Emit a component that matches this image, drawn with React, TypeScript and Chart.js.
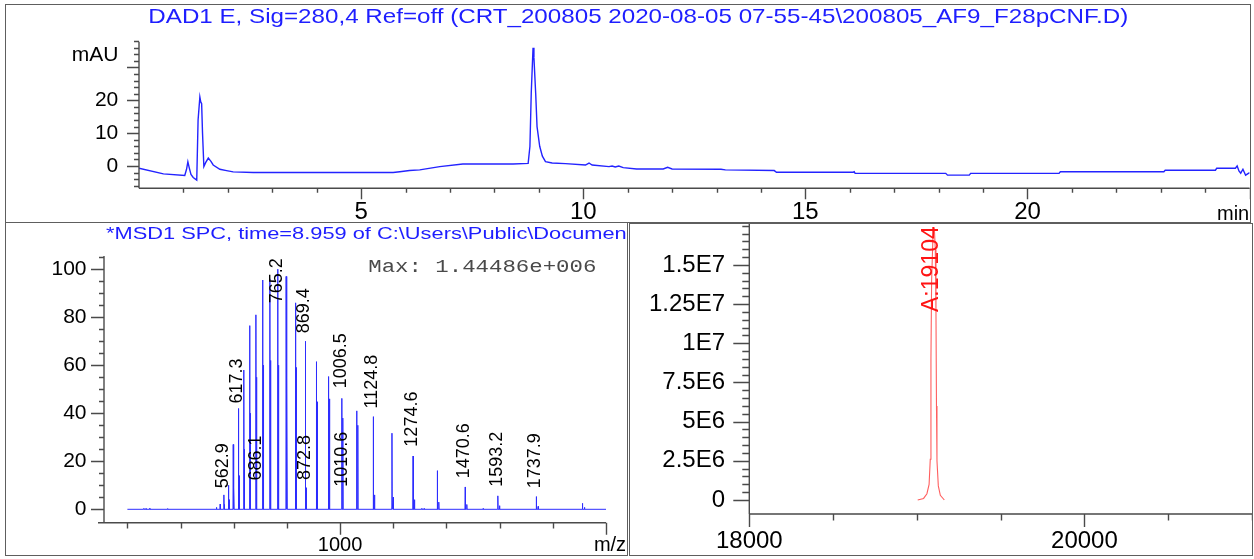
import React, { useEffect, useRef } from 'react';
import { Chart, registerables } from 'chart.js';

Chart.register(...registerables);

const SANS = '"Liberation Sans", Arial, Helvetica, sans-serif';
const MONO = '"Liberation Mono", "Courier New", monospace';
const BLUE = 'rgb(30,30,255)';
const AXIS = '#4a4a4a';

// ---------------- DAD (UV) chromatogram ----------------
const DAD_TITLE = 'DAD1 E, Sig=280,4 Ref=off (CRT_200805 2020-08-05 07-55-45\\200805_AF9_F28pCNF.D)';
const DAD_TIME = [0.0, 0.55, 1.03, 1.07, 1.1, 1.13, 1.17, 1.22, 1.3, 1.33, 1.37, 1.39, 1.41, 1.43, 1.46, 1.5, 1.56, 1.62, 1.67, 1.82, 1.97, 2.12, 2.57, 4.0, 5.72, 5.87, 6.09, 6.32, 6.77, 7.29, 8.42, 8.76, 8.8, 8.83, 8.87, 8.89, 8.93, 8.96, 9.02, 9.08, 9.15, 9.3, 9.6, 10.05, 10.13, 10.2, 10.58, 10.65, 10.72, 10.8, 10.9, 11.2, 11.8, 11.9, 12.0, 13.1, 13.2, 14.3, 14.35, 16.08, 16.1, 16.12, 18.16, 18.2, 18.69, 18.72, 20.71, 20.74, 23.07, 23.1, 24.23, 24.26, 24.68, 24.72, 24.76, 24.8, 24.85, 24.91, 25.0];
const DAD_MAU = [-0.7, -2.4, -2.9, -1.0, 1.3, -0.5, -2.6, -3.5, -4.3, 14.0, 21.0, 19.5, 19.0, 10.0, -0.2, 1.0, 2.4, 1.4, 0.3, -1.0, -1.4, -1.8, -2.0, -2.0, -2.0, -1.75, -1.4, -1.2, -0.2, 0.6, 0.6, 0.8, 6.0, 22.4, 36.0, 33.0, 22.0, 12.0, 6.0, 3.0, 1.3, 0.9, 0.7, 0.3, 0.9, 0.3, -0.2, 0.0, -0.3, 0.0, -0.5, -0.9, -0.9, -0.4, -0.9, -1.0, -1.2, -1.4, -1.9, -1.9, -1.75, -2.25, -2.25, -2.8, -2.8, -2.25, -2.25, -1.75, -1.75, -1.3, -1.3, -0.7, -0.7, 0.0, -1.5, -2.2, -1.0, -2.8, -2.0];
const DAD_X_TICKS = [5, 10, 15, 20];
const DAD_X_LABELS = ['5', '10', '15', '20'];
const DAD_Y_TICKS = [0, 10, 20];
const DAD_Y_LABELS = ['0', '10', '20'];

// ---------------- MS spectrum ----------------
const MS_TITLE = '*MSD1 SPC, time=8.959 of C:\\Users\\Public\\Documents\\ChemStation';
const MS_MAX_TEXT = 'Max: 1.44486e+006';
const MS_PEAK_MZ = [562.9, 579.9, 598.0, 617.3, 637.8, 659.8, 683.3, 708.6, 735.8, 765.2, 797.0, 831.6, 869.4, 910.7, 956.2, 1006.5, 1062.3, 1124.8, 1195.0, 1274.6, 1365.6, 1470.6, 1593.2, 1737.9, 1911.4];
const MS_PEAK_INT = [6, 10, 27, 42, 58, 76.5, 81, 95.5, 96, 100, 97, 86, 70, 61.5, 55.3, 46.2, 41, 38.6, 31.7, 22.2, 16.1, 9.3, 5.6, 5.3, 2.5];
const MS_ADDUCT_MZ = [565.2, 582.2, 600.4, 619.8, 640.4, 662.5, 686.1, 711.5, 738.8, 768.3, 800.2, 835.0, 872.8, 914.4, 960.1, 1010.6, 1066.6, 1129.4, 1199.8, 1279.7, 1371.1, 1476.5, 1599.6, 1744.9, 1919.1];
const MS_ADDUCT_INT = [2, 4, 9, 14, 25, 40, 55, 60, 62, 60, 55, 59, 9, 44.8, 46, 38, 35, 6, 5, 4, 3, 2, 1.5, 1.2, 0.8];
const MS_NOISE_MZ = [262, 270, 284, 351, 535, 549, 1307, 1316, 1538];
const MS_NOISE_INT = [0.4, 0.3, 0.5, 0.3, 0.8, 2.2, 0.4, 0.3, 0.3];
const MS_RANGE = [200, 2000];
const MS_LABEL_MZ = [562.9, 617.3, 686.1, 765.2, 869.4, 872.8, 1006.5, 1010.6, 1124.8, 1274.6, 1470.6, 1593.2, 1737.9];
const MS_LABEL_BASE = [8.75, 44.1, 12, 85.8, 73.3, 12.2, 50.4, 9.4, 42, 26.1, 12.9, 9.4, 8.75];
const MS_X_TICKS = [1000];
const MS_X_LABELS = ['1000'];
const MS_Y_TICKS = [0, 20, 40, 60, 80, 100];
const MS_Y_LABELS = ['0', '20', '40', '60', '80', '100'];

// ---------------- Deconvoluted spectrum ----------------
const DEC_MASS = [19005, 19040, 19060, 19073, 19080, 19084, 19088, 19096, 19104, 19110, 19114, 19117, 19120, 19128, 19140, 19164];
const DEC_ABUND = [0, 0.1e6, 0.4e6, 1.0e6, 2.6e6, 9e6, 14e6, 16.8e6, 17.4e6, 16e6, 12e6, 6e6, 2.5e6, 0.9e6, 0.3e6, 0];
const DEC_LABEL = 'A:19104';
const DEC_LABEL_MASS = 19104;
const DEC_LABEL_BASE = 12.0e6;
const DEC_X_TICKS = [18000, 20000];
const DEC_X_LABELS = ['18000', '20000'];
const DEC_Y_TICKS = [0, 2.5e6, 5e6, 7.5e6, 1e7, 1.25e7, 1.5e7];
const DEC_Y_LABELS = ['0', '2.5E6', '5E6', '7.5E6', '1E7', '1.25E7', '1.5E7'];

type AxesCfg = {
  xStart: number; xStep: number; xEnd: number; xMajor: number[]; xMinorLen: number; xMajorLen: number;
  yStart: number; yStep: number; yEnd: number; yMajor: number[]; yMinorLen: number; yMajorLen: number;
  xExtendLeft: number;
};

function isMajor(v: number, majors: number[], step: number) {
  return majors.some((m) => Math.abs(m - v) < step * 1e-3);
}

function stretchText(ctx: CanvasRenderingContext2D, text: string, x: number, y: number, font: string, color: string, scaleX: number) {
  ctx.save();
  ctx.font = font;
  ctx.fillStyle = color;
  ctx.textAlign = 'left';
  ctx.textBaseline = 'middle';
  ctx.translate(x, y);
  ctx.scale(scaleX, 1);
  ctx.fillText(text, 0, 0);
  ctx.restore();
}

function fitScale(ctx: CanvasRenderingContext2D, text: string, font: string, width: number) {
  ctx.save();
  ctx.font = font;
  const w = ctx.measureText(text).width;
  ctx.restore();
  return w > 0 ? width / w : 1;
}

function makeChart(canvas: HTMLCanvasElement, spec: any) {
  const axesPlugin = {
    id: 'customAxes',
    afterDraw(chart: any) {
      const { ctx, chartArea: a, scales } = chart;
      const x = scales.x;
      const y = scales.y;
      const c: AxesCfg = spec.axes;
      ctx.save();
      ctx.strokeStyle = AXIS;
      ctx.lineWidth = 1.4;
      ctx.beginPath();
      ctx.moveTo(a.left - c.xExtendLeft, a.bottom);
      ctx.lineTo(a.right, a.bottom);
      ctx.moveTo(a.left, a.top);
      ctx.lineTo(a.left, a.bottom);
      const nx = Math.round((c.xEnd - c.xStart) / c.xStep);
      for (let i = 0; i <= nx; i++) {
        const v = c.xStart + i * c.xStep;
        const px = Math.round(x.getPixelForValue(v)) + 0.5;
        const len = isMajor(v, c.xMajor, c.xStep) ? c.xMajorLen : c.xMinorLen;
        ctx.moveTo(px, a.bottom);
        ctx.lineTo(px, a.bottom + len);
      }
      const ny = Math.round((c.yEnd - c.yStart) / c.yStep);
      for (let i = 0; i <= ny; i++) {
        const v = c.yStart + i * c.yStep;
        const py = Math.round(y.getPixelForValue(v)) + 0.5;
        const len = isMajor(v, c.yMajor, c.yStep) ? c.yMajorLen : c.yMinorLen;
        ctx.moveTo(a.left, py);
        ctx.lineTo(a.left - len, py);
      }
      ctx.stroke();
      ctx.restore();
      ctx.save();
      spec.decorate(chart);
      ctx.restore();
    },
  };

  return new Chart(canvas, {
    type: 'line',
    data: { datasets: spec.datasets },
    options: {
      responsive: false,
      animation: false,
      layout: { padding: { left: 0, right: spec.padRight, top: spec.padTop, bottom: 0 } },
      plugins: { legend: { display: false }, tooltip: { enabled: false }, title: { display: false } },
      elements: { point: { radius: 0 }, line: { tension: 0 } },
      scales: {
        x: {
          type: 'linear',
          min: spec.xMin,
          max: spec.xMax,
          grid: { display: false, drawTicks: false },
          border: { display: false },
          afterBuildTicks: (s: any) => {
            s.ticks = spec.xTicks.map((v: number) => ({ value: v }));
          },
          afterFit: (s: any) => {
            s.height = spec.xHeight;
            s.paddingLeft = 0;
            s.paddingRight = 0;
          },
          ticks: {
            autoSkip: false,
            maxRotation: 0,
            minRotation: 0,
            padding: spec.xPad,
            color: '#000',
            font: { family: SANS, size: spec.xFontSize },
            callback: (_v: any, i: number) => spec.xLabels[i],
          },
        },
        y: {
          type: 'linear',
          min: spec.yMin,
          max: spec.yMax,
          grid: { display: false, drawTicks: false },
          border: { display: false },
          afterBuildTicks: (s: any) => {
            s.ticks = spec.yTicks.map((v: number) => ({ value: v }));
          },
          afterFit: (s: any) => {
            s.width = spec.yWidth;
            s.paddingTop = 0;
            s.paddingBottom = 0;
          },
          ticks: {
            autoSkip: false,
            padding: spec.yPad,
            color: '#000',
            font: { family: SANS, size: spec.yFontSize },
            callback: (_v: any, i: number) => spec.yLabels[i],
          },
        },
      },
    } as any,
    plugins: [axesPlugin as any],
  });
}

function buildMsPoints() {
  const peaks: [number, number][] = [];
  MS_PEAK_MZ.forEach((m, i) => peaks.push([m, MS_PEAK_INT[i]]));
  MS_ADDUCT_MZ.forEach((m, i) => peaks.push([m, MS_ADDUCT_INT[i]]));
  MS_NOISE_MZ.forEach((m, i) => peaks.push([m, MS_NOISE_INT[i]]));
  peaks.sort((a, b) => a[0] - b[0]);
  const half = 0.9;
  const pts: { x: number; y: number }[] = [{ x: MS_RANGE[0], y: 0 }];
  peaks.forEach(([m, h]) => {
    pts.push({ x: m - half, y: 0 }, { x: m, y: h }, { x: m + half, y: 0 });
  });
  pts.push({ x: MS_RANGE[1], y: 0 });
  return pts;
}

export default function App() {
  const topRef = useRef<HTMLCanvasElement>(null);
  const msRef = useRef<HTMLCanvasElement>(null);
  const decRef = useRef<HTMLCanvasElement>(null);

  useEffect(() => {
    const charts: Chart[] = [];

    // ----- top: DAD chromatogram -----
    charts.push(
      makeChart(topRef.current!, {
        datasets: [
          {
            data: DAD_TIME.map((t, i) => ({ x: t, y: DAD_MAU[i] })),
            borderColor: 'rgb(35,35,255)',
            borderWidth: 1.4,
            pointRadius: 0,
            fill: false,
          },
        ],
        xMin: 0, xMax: 25, yMin: -6.8, yMax: 37.85,
        yWidth: 133, xHeight: 33.7, padTop: 37.7, padRight: 0.4,
        xTicks: DAD_X_TICKS, xLabels: DAD_X_LABELS, xFontSize: 24, xPad: 10,
        yTicks: DAD_Y_TICKS, yLabels: DAD_Y_LABELS, yFontSize: 21, yPad: 20.7,
        axes: {
          xStart: 1, xStep: 1, xEnd: 25, xMajor: [5, 10, 15, 20, 25], xMinorLen: 4.5, xMajorLen: 11,
          yStart: -6, yStep: 2, yEnd: 38, yMajor: [0, 10, 20, 30], yMinorLen: 5, yMajorLen: 12,
          xExtendLeft: 0,
        },
        decorate: (chart: any) => {
          const ctx = chart.ctx as CanvasRenderingContext2D;
          const f = `21px ${SANS}`;
          stretchText(ctx, DAD_TITLE, 142.3, 13.3, f, BLUE, fitScale(ctx, DAD_TITLE, f, 980));
          ctx.font = f;
          ctx.fillStyle = '#000';
          ctx.textAlign = 'right';
          ctx.textBaseline = 'middle';
          ctx.fillText('mAU', 112.3, 51);
          ctx.font = `20px ${SANS}`;
          ctx.textAlign = 'left';
          ctx.textBaseline = 'alphabetic';
          ctx.fillText('min', 1211, 216);
        },
      })
    );

    // ----- bottom left: MS spectrum -----
    charts.push(
      makeChart(msRef.current!, {
        datasets: [
          {
            data: buildMsPoints(),
            borderColor: 'rgb(45,45,255)',
            borderWidth: 1,
            pointRadius: 0,
            fill: false,
          },
        ],
        xMin: 112, xMax: 2000, yMin: -5.58, yMax: 105.5,
        yWidth: 98, xHeight: 32.3, padTop: 33, padRight: 21,
        xTicks: MS_X_TICKS, xLabels: MS_X_LABELS, xFontSize: 20, xPad: 10.3,
        yTicks: MS_Y_TICKS, yLabels: MS_Y_LABELS, yFontSize: 21, yPad: 17.5,
        axes: {
          xStart: 200, xStep: 200, xEnd: 2000, xMajor: [1000, 2000], xMinorLen: 5.7, xMajorLen: 12,
          yStart: 0, yStep: 5, yEnd: 105, yMajor: [0, 20, 40, 60, 80, 100], yMinorLen: 5, yMajorLen: 13,
          xExtendLeft: 6,
        },
        decorate: (chart: any) => {
          const ctx = chart.ctx as CanvasRenderingContext2D;
          const { x, y } = chart.scales;
          const tf = `17px ${SANS}`;
          const sc = fitScale(ctx, '*MSD1 SPC, time=8.959 of C:\\Users\\Public\\Documen', tf, 520.7);
          stretchText(ctx, MS_TITLE, 100, 11.5, tf, BLUE, sc);
          const mf = `19px ${MONO}`;
          stretchText(ctx, MS_MAX_TEXT, 362.3, 44.3, mf, '#4a4a4a', fitScale(ctx, MS_MAX_TEXT, mf, 228));
          ctx.font = `20px ${SANS}`;
          ctx.fillStyle = '#000';
          ctx.textAlign = 'center';
          ctx.textBaseline = 'middle';
          ctx.fillText('m/z', 604, 322);
          ctx.font = `18px ${SANS}`;
          MS_LABEL_MZ.forEach((m, i) => {
            const px = x.getPixelForValue(m) - 1;
            const py = y.getPixelForValue(MS_LABEL_BASE[i]);
            ctx.save();
            ctx.translate(px, py);
            ctx.rotate(-Math.PI / 2);
            ctx.textAlign = 'left';
            ctx.textBaseline = 'middle';
            ctx.fillText(m.toFixed(1), 0, 0);
            ctx.restore();
          });
        },
      })
    );

    // ----- bottom right: deconvoluted -----
    charts.push(
      makeChart(decRef.current!, {
        datasets: [
          {
            data: DEC_MASS.map((m, i) => ({ x: m, y: DEC_ABUND[i] })),
            borderColor: 'rgba(255,40,40,0.75)',
            borderWidth: 1.1,
            pointRadius: 0,
            fill: false,
          },
        ],
        xMin: 18000, xMax: 21000, yMin: -0.8935e6, yMax: 17.615e6,
        yWidth: 119.3, xHeight: 41, padTop: 0, padRight: 0,
        xTicks: DEC_X_TICKS, xLabels: DEC_X_LABELS, xFontSize: 24, xPad: 13.3,
        yTicks: DEC_Y_TICKS, yLabels: DEC_Y_LABELS, yFontSize: 24, yPad: 24.3,
        axes: {
          xStart: 18000, xStep: 500, xEnd: 21000, xMajor: [18000, 20000], xMinorLen: 6.5, xMajorLen: 13,
          yStart: 0, yStep: 0.5e6, yEnd: 17.5e6, yMajor: [0, 2.5e6, 5e6, 7.5e6, 1e7, 1.25e7, 1.5e7], yMinorLen: 7, yMajorLen: 16,
          xExtendLeft: 0,
        },
        decorate: (chart: any) => {
          const ctx = chart.ctx as CanvasRenderingContext2D;
          const { x, y } = chart.scales;
          ctx.font = `23px ${SANS}`;
          ctx.fillStyle = 'rgb(255,20,20)';
          const px = x.getPixelForValue(DEC_LABEL_MASS) - 2.5;
          const py = y.getPixelForValue(DEC_LABEL_BASE);
          ctx.translate(px, py);
          ctx.rotate(-Math.PI / 2);
          ctx.textAlign = 'left';
          ctx.textBaseline = 'middle';
          ctx.fillText(DEC_LABEL, 0, 0);
        },
      })
    );

    return () => charts.forEach((c) => c.destroy());
  }, []);

  const border = '1.5px solid #5e5e5e';
  const abs = (l: number, t: number, w: number, h: number): React.CSSProperties => ({
    position: 'absolute', left: l, top: t, width: w, height: h,
  });

  return (
    <div style={{ position: 'fixed', left: 0, top: 0, width: 1254, height: 559, background: '#fff', overflow: 'hidden' }}>
      <canvas ref={topRef} width={1244} height={218} style={abs(6, 4, 1244, 218)} />
      <canvas ref={msRef} width={621} height={332} style={abs(6, 223, 621, 332)} />
      <canvas ref={decRef} width={622} height={331} style={abs(630, 224, 622, 331)} />
      <div style={{ ...abs(5, 3.5, 1246, 219.5), border, boxSizing: 'border-box', pointerEvents: 'none' }} />
      <div style={{ ...abs(5, 221.5, 622.5, 334.5), border, boxSizing: 'border-box', pointerEvents: 'none' }} />
      <div style={{ ...abs(629, 222.5, 623.5, 333.5), border, boxSizing: 'border-box', pointerEvents: 'none' }} />
    </div>
  );
}
